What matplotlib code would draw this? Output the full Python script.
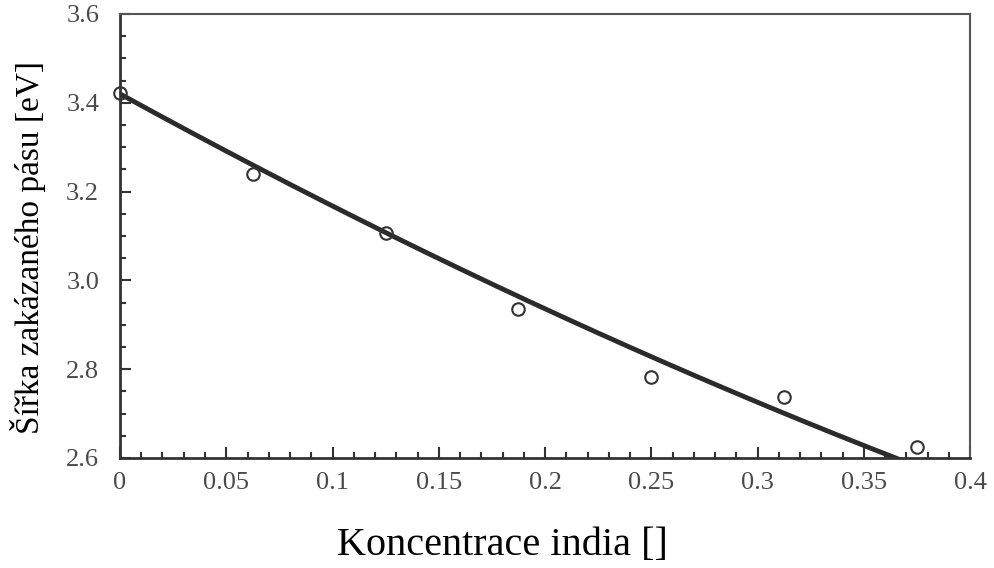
import numpy as np
import matplotlib
matplotlib.use("Agg")
import matplotlib.pyplot as plt
from matplotlib.ticker import MultipleLocator, FixedLocator, FixedFormatter

# Band gap of InxGa(1-x)N versus indium concentration
concentration = [0.0, 0.0625, 0.125, 0.1875, 0.25, 0.3125, 0.375]
band_gap = [3.422, 3.240, 3.107, 2.936, 2.782, 2.737, 2.625]

# Quadratic (bowing) fit: E(x) = e0 - slope*x + bowing*x^2
fit_e0 = 3.42
fit_slope = 2.63
fit_bowing = 1.05

x_ticks = [0, 0.05, 0.1, 0.15, 0.2, 0.25, 0.3, 0.35, 0.4]
x_tick_labels = ["0", "0.05", "0.1", "0.15", "0.2", "0.25", "0.3", "0.35", "0.4"]
y_ticks = [2.6, 2.8, 3.0, 3.2, 3.4, 3.6]
y_tick_labels = ["2.6", "2.8", "3.0", "3.2", "3.4", "3.6"]

plt.rcParams["font.family"] = ["Liberation Serif", "DejaVu Serif"]
plt.rcParams["xtick.labelsize"] = 19
plt.rcParams["ytick.labelsize"] = 19
plt.rcParams["xtick.labelcolor"] = "#4a4a4a"
plt.rcParams["ytick.labelcolor"] = "#4a4a4a"

fig = plt.figure(figsize=(9.95, 5.68), dpi=100)
ax = fig.add_axes([0.1206, 0.1937, 0.8543, 0.7817])

xs = np.linspace(0, 0.4, 400)
fit = fit_e0 - fit_slope * xs + fit_bowing * xs ** 2
ax.plot(xs, fit, color="#2b2b2b", lw=3.5, solid_capstyle="butt", zorder=2)

ax.plot(concentration, band_gap, linestyle="none", marker="o", ms=9,
        mfc="none", mec="#333333", mew=1.5, clip_on=False, zorder=3)

ax.set_xlim(0, 0.4)
ax.set_ylim(2.6, 3.6)

ax.xaxis.set_major_locator(FixedLocator(x_ticks))
ax.xaxis.set_major_formatter(FixedFormatter(x_tick_labels))
ax.xaxis.set_minor_locator(MultipleLocator(0.01))
ax.yaxis.set_major_locator(FixedLocator(y_ticks))
ax.yaxis.set_major_formatter(FixedFormatter(y_tick_labels))
ax.yaxis.set_minor_locator(MultipleLocator(0.05))

ax.tick_params(which="both", direction="in", top=False, right=False,
               color="#333333", width=1.5)
ax.tick_params(which="major", length=8)
ax.tick_params(which="minor", length=4.5)
ax.tick_params(axis="x", which="major", pad=10)
ax.tick_params(axis="y", which="major", pad=15)

for side in ["left", "bottom"]:
    ax.spines[side].set_color("#333333")
    ax.spines[side].set_linewidth(2.0)
for side in ["top", "right"]:
    ax.spines[side].set_color("#555555")
    ax.spines[side].set_linewidth(1.5)

ax.set_xlabel("Koncentrace india []", fontsize=29, color="black")
ax.xaxis.set_label_coords(0.45, -0.155)
ax.set_ylabel("Šířka zakázaného pásu [eV]", fontsize=24, color="black")
ax.yaxis.set_label_coords(-0.087, 0.475)

fig.savefig("out.png", dpi=100)
